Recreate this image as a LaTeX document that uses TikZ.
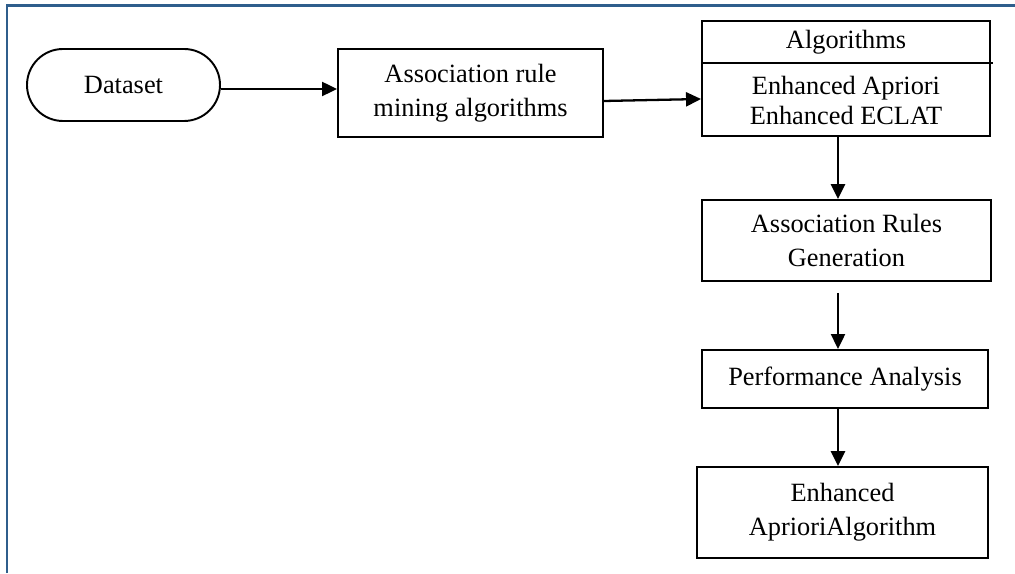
\documentclass[tikz,border=0pt]{standalone}
\usepackage{fontspec}
\setmainfont{Liberation Serif}
\usetikzlibrary{arrows.meta}
\definecolor{frameblue}{RGB}{47,94,140}
\begin{document}
\begin{tikzpicture}[font=\fontsize{15}{19.3}\selectfont,
    blk/.style={draw, line width=1.1pt, align=center, inner sep=0pt},
    flow/.style={line width=1.3pt, -{Triangle[length=3mm,width=2.8mm]}}]
\useasboundingbox (0,0) rectangle (20.3,11.46);
\draw[frameblue, line width=1.7pt] (0.14,0) -- (0.14,11.34) -- (20.3,11.34);
\node[blk, rounded corners=0.72cm, minimum width=3.86cm, minimum height=1.44cm] (data) at (2.47,9.76) {Dataset};
\node[blk, minimum width=5.3cm, minimum height=1.76cm] (assoc) at (9.41,9.6) {Association rule\\mining algorithms};
\node[blk, minimum width=5.76cm, minimum height=2.3cm] (algo) at (16.92,9.89) {};
    \draw[line width=1.1pt] (14.04,10.2) -- (19.86,10.2);
    \node (algohead) at (16.92,10.62) {Algorithms};
    \node[align=center, font=\fontsize{15}{17}\selectfont] (algolist) at (16.92,9.45) {Enhanced Apriori\\Enhanced ECLAT};
\node[blk, minimum width=5.78cm, minimum height=1.62cm] (rules) at (16.93,6.65) {Association Rules\\Generation};
\node[blk, minimum width=5.72cm, minimum height=1.16cm] (perf) at (16.9,3.88) {Performance Analysis};
\node[blk, minimum width=5.82cm, minimum height=1.82cm] (best) at (16.85,1.21) {Enhanced\\AprioriAlgorithm};
\coordinate (spine) at (16.76,0);
\draw[flow] ([yshift=-0.08cm]data.east) -- ([yshift=-0.08cm]data.east -| assoc.west);
\draw[flow] ([yshift=-0.16cm]assoc.east) -- ([yshift=-0.41cm]algo.west);
\draw[flow, line width=1.6pt] (algo.south -| spine) -- (rules.north -| spine);
\draw[flow, shorten <=0.22cm] (rules.south -| spine) -- (perf.north -| spine);
\draw[flow, line width=1.6pt] (perf.south -| spine) -- (best.north -| spine);
\end{tikzpicture}
\end{document}
